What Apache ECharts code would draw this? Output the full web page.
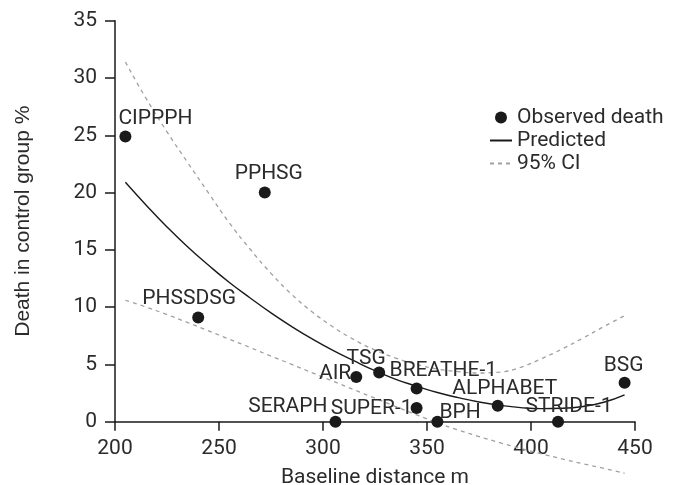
<!DOCTYPE html>
<html>
<head>
<meta charset="utf-8">
<script src="https://cdn.jsdelivr.net/npm/echarts@6/dist/echarts.min.js"></script>
<style>
  html, body { margin: 0; padding: 0; background: #fff; }
  #chart { width: 675px; height: 485px; }
</style>
</head>
<body>
<div id="chart"></div>
<script>
// observed trials
var studies = ['CIPPPH', 'PPHSG', 'PHSSDSG', 'SERAPH', 'AIR', 'TSG', 'BREATHE-1', 'SUPER-1', 'BPH', 'ALPHABET', 'STRIDE-1', 'BSG'];
var distance = [205, 272, 240, 306, 316, 327, 345, 345, 355, 384, 413, 445];
var deaths = [24.9, 20.0, 9.1, 0, 3.9, 4.3, 2.9, 1.2, 0, 1.4, 0, 3.4];

// fitted curve and 95% CI
var fitX = [205, 215, 225, 235, 245, 255, 265, 275, 285, 295, 305, 315, 325, 335, 345, 355, 365, 375, 385, 395, 405, 415, 425, 435, 445];
var predicted = [20.9, 18.9, 17.0, 15.25, 13.65, 12.15, 10.8, 9.5, 8.3, 7.2, 6.2, 5.3, 4.45, 3.7, 3.1, 2.55, 2.1, 1.72, 1.43, 1.23, 1.14, 1.17, 1.33, 1.7, 2.35];
var ciUpper = [31.4, 28.2, 25.3, 22.6, 19.95, 17.35, 15.05, 12.95, 11.1, 9.55, 8.25, 7.15, 6.25, 5.55, 5.0, 4.6, 4.37, 4.25, 4.33, 4.75, 5.5, 6.35, 7.3, 8.3, 9.25];
var ciLower = [10.6, 10.0, 9.35, 8.65, 7.93, 7.2, 6.47, 5.73, 5.0, 4.26, 3.52, 2.78, 2.05, 1.32, 0.6, -0.1, -0.72, -1.3, -1.83, -2.33, -2.8, -3.25, -3.67, -4.07, -4.5];

var xTicks = [200, 250, 300, 350, 400, 450];
var yTicks = [0, 5, 10, 15, 20, 25, 30, 35];

// label placement: [align, dx, dy] from the dot centre
var labelPos = {
  'CIPPPH': ['left', -7, -18],
  'PPHSG': ['center', 4, -18.5],
  'PHSSDSG': ['center', -9, -18.5],
  'SERAPH': ['right', -8, -14.6],
  'AIR': ['right', -5, -3],
  'TSG': ['center', -13, -13.7],
  'BREATHE-1': ['left', -27, -18.2],
  'SUPER-1': ['right', -4, 0.5],
  'BPH': ['left', 2, -9],
  'ALPHABET': ['center', 7, -16.7],
  'STRIDE-1': ['center', 11, -15],
  'BSG': ['center', -1, -16.8]
};

var FONT = 'Roboto';
var FS = 21;
var INK = '#1a1a1a';
var TXT = '#2b2b2b';
var CI = '#a0a0a0';

function pairs(xs, ys) {
  return xs.map(function (x, i) { return [x, ys[i]]; });
}

var points = studies.map(function (name, i) {
  var p = labelPos[name];
  return {
    name: name,
    value: [distance[i], deaths[i]],
    label: { align: p[0], offset: [p[1], p[2]] }
  };
});

var myChart = echarts.init(document.getElementById('chart'), null, { renderer: 'canvas' });

var option = {
  animation: false,
  backgroundColor: '#fff',
  textStyle: { fontFamily: FONT },
  grid: { left: 115, right: 40, top: 20.7, bottom: 63.3, containLabel: false, outerBoundsMode: 'none' },
  legend: {
    orient: 'vertical',
    left: 484,
    top: 102,
    itemWidth: 22,
    itemHeight: 12,
    itemGap: 2,
    data: [
      { name: 'Observed death' },
      { name: 'Predicted', itemStyle: { opacity: 0 } },
      { name: '95% CI', itemStyle: { opacity: 0 } }
    ],
    textStyle: { fontFamily: FONT, fontSize: FS, color: TXT, lineHeight: 21 }
  },
  xAxis: {
    type: 'value',
    min: 200,
    max: 450,
    interval: 50,
    name: 'Baseline distance m',
    nameLocation: 'middle',
    nameGap: 46,
    nameTextStyle: { fontFamily: FONT, fontSize: FS, color: TXT, lineHeight: 21 },
    axisLine: { lineStyle: { color: INK, width: 1.5 } },
    axisTick: { show: true, length: 9, lineStyle: { color: INK, width: 1.5 } },
    axisLabel: {
      margin: 17,
      fontFamily: FONT,
      fontSize: FS,
      color: TXT,
      lineHeight: 21,
      formatter: function (v) { return xTicks.indexOf(v) >= 0 ? String(v) : ''; }
    },
    splitLine: { show: false }
  },
  yAxis: {
    type: 'value',
    min: 0,
    max: 35,
    interval: 5,
    name: 'Death in control group %',
    nameLocation: 'middle',
    nameGap: 81,
    nameTextStyle: { fontFamily: 'Liberation Sans', fontSize: 21, color: TXT },
    axisLine: { show: true, lineStyle: { color: INK, width: 1.5 } },
    axisTick: { show: true, length: 10, lineStyle: { color: INK, width: 1.5 } },
    axisLabel: {
      margin: 18,
      fontFamily: FONT,
      fontSize: FS,
      color: TXT,
      formatter: function (v) { return yTicks.indexOf(v) >= 0 ? String(v) : ''; }
    },
    splitLine: { show: false }
  },
  series: [
    {
      name: '95% CI',
      type: 'line',
      data: pairs(fitX, ciUpper),
      smooth: true,
      symbol: 'none',
      clip: false,
      lineStyle: { color: CI, width: 1.3, type: [4, 4] },
      itemStyle: { color: CI },
      z: 2
    },
    {
      name: '95% CI',
      type: 'line',
      data: pairs(fitX, ciLower),
      smooth: true,
      symbol: 'none',
      clip: false,
      lineStyle: { color: CI, width: 1.3, type: [4, 4] },
      itemStyle: { color: CI },
      z: 2
    },
    {
      name: 'Predicted',
      type: 'line',
      data: pairs(fitX, predicted),
      smooth: true,
      symbol: 'none',
      clip: false,
      lineStyle: { color: INK, width: 1.4 },
      itemStyle: { color: INK },
      z: 3
    },
    {
      name: 'Observed death',
      type: 'scatter',
      data: points,
      symbol: 'circle',
      symbolSize: 12,
      clip: false,
      itemStyle: { color: INK, opacity: 1 },
      label: {
        show: true,
        position: 'inside',
        verticalAlign: 'middle',
        formatter: '{b}',
        fontFamily: FONT,
        fontSize: FS,
        lineHeight: 21,
        color: TXT
      },
      z: 4
    }
  ]
};

myChart.setOption(option);
window.addEventListener('resize', function () {
  myChart.resize();
});
</script>
</body>
</html>
